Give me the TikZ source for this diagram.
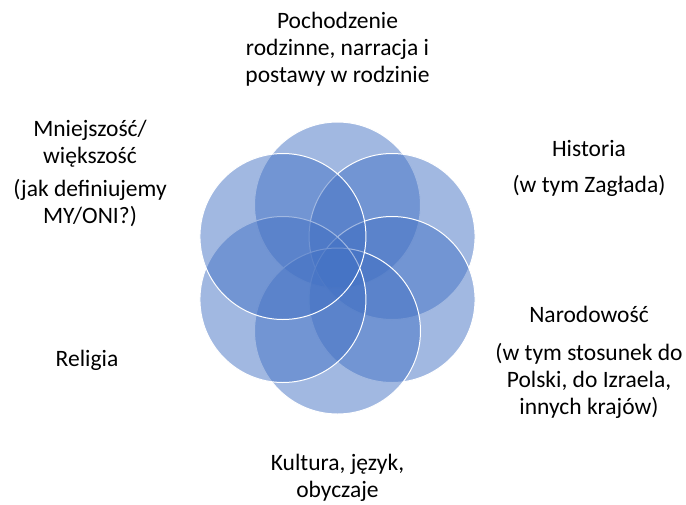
\documentclass[tikz,border=0pt]{standalone}
\usepackage{fontspec}
\setmainfont{Carlito}
\usetikzlibrary{calc}
\definecolor{petalblue}{HTML}{4472C4}

\begin{document}
\begin{tikzpicture}[
    x=1pt, y=-1pt,
    petal/.style={circle, draw=white, line width=1pt, fill=petalblue, fill opacity=0.5, minimum size=166pt, inner sep=0pt},
    lbl/.style={align=center, font=\fontsize{23.5}{27}\selectfont, text=black, inner sep=0pt}
]
\useasboundingbox (0,0) rectangle (686,504);
\coordinate (mid) at (337.5,268);

% six overlapping circles, clockwise from the top
\foreach \a [count=\i] in {-90,-30,30,90,150,210}
  \node[petal] (c\i) at ($(mid)+(\a:63)$) {};

\node[lbl] (family) at (337.5,49) {Pochodzenie\\rodzinne, narracja i\\postawy w rodzinie};
\node[lbl] (history) at (589,168) {Historia\\[9pt](w tym Zagłada)};
\node[lbl] (nation) at (589,362) {Narodowość\\[11pt](w tym stosunek do\\Polski, do Izraela,\\innych krajów)};
\node[lbl] (culture) at (337.5,478) {Kultura, język,\\obyczaje};
\node[lbl] (religion) at (87,360) {Religia};
\node[lbl] (minority) at (90,173) {Mniejszość/\\większość\\[6pt](jak definiujemy\\MY/ONI?)};
\end{tikzpicture}
\end{document}
